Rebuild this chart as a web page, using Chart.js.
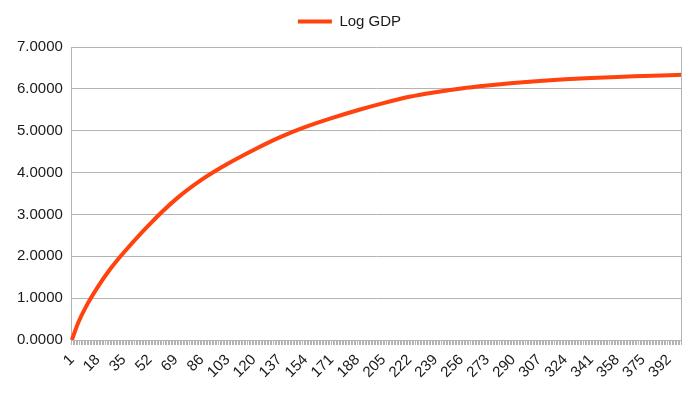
<!DOCTYPE html>
<html>
<head>
<meta charset="utf-8">
<script src="https://cdn.jsdelivr.net/npm/chart.js@4/dist/chart.umd.min.js"></script>
<style>
  html, body { margin: 0; padding: 0; background: #fff; }
  #wrap { width: 700px; height: 393px; position: relative; }
</style>
</head>
<body>
<div id="wrap"><canvas id="chart"></canvas></div>
<script>
// ── Data ──
var periodCount = 400;
var sampleLabels = [1, 5, 10, 18, 26, 35, 52, 69, 86, 103, 120, 137, 154, 171, 188, 205, 222, 239, 256, 273, 290, 307, 324, 341, 358, 375, 392, 400];
var logGdpValues = [0, 0.40, 0.78, 1.27, 1.69, 2.09, 2.77, 3.36, 3.83, 4.21, 4.54, 4.84, 5.09, 5.30, 5.49, 5.66, 5.81, 5.92, 6.01, 6.08, 6.14, 6.19, 6.23, 6.26, 6.285, 6.305, 6.325, 6.335];
var yTicks = [0, 1, 2, 3, 4, 5, 6, 7];
var labelEvery = 17;

var categories = [];
for (var i = 1; i <= periodCount; i++) categories.push(i);

var points = sampleLabels.map(function (c, k) { return { x: c, y: logGdpValues[k] }; });

var LINE = '#ff420e';
var GRID = '#b3b3b3';
var TEXT = '#1a1a1a';
var FONT = "'Liberation Sans', Arial, sans-serif";

// ── Plot-area frame on the right side ──
var frame = {
  id: 'frame',
  afterDraw: function (chart) {
    var a = chart.chartArea, ctx = chart.ctx;
    ctx.save();
    ctx.strokeStyle = GRID;
    ctx.lineWidth = 1;
    ctx.beginPath();
    ctx.moveTo(Math.round(a.right) + 0.5, a.top);
    ctx.lineTo(Math.round(a.right) + 0.5, a.bottom);
    ctx.stroke();
    ctx.restore();
  }
};

// ── Extra gap below the legend ──
var legendGap = {
  id: 'legendGap',
  beforeInit: function (chart) {
    var fit = chart.legend.fit;
    chart.legend.fit = function () {
      fit.bind(chart.legend)();
      this.height += 8;
    };
  }
};

new Chart(document.getElementById('chart').getContext('2d'), {
  type: 'line',
  data: {
    labels: categories,
    datasets: [{
      label: 'Log GDP',
      data: points,
      borderColor: LINE,
      backgroundColor: LINE,
      borderWidth: 4,
      pointRadius: 0,
      cubicInterpolationMode: 'monotone',
      fill: false
    }]
  },
  options: {
    responsive: true,
    maintainAspectRatio: false,
    animation: false,
    layout: { padding: { top: 6, right: 9, left: 8, bottom: 0 } },
    plugins: {
      legend: {
        position: 'top',
        labels: {
          usePointStyle: true,
          pointStyle: 'line',
          pointStyleWidth: 34,
          padding: 8,
          color: TEXT,
          font: { family: FONT, size: 15 }
        }
      },
      tooltip: { enabled: false }
    },
    scales: {
      x: {
        type: 'category',
        offset: false,
        afterFit: function (scale) { scale.height = 53; },
        grid: { drawOnChartArea: false, drawTicks: true, tickLength: 5, color: GRID },
        border: { color: GRID },
        ticks: {
          autoSkip: false,
          maxRotation: 45,
          minRotation: 45,
          padding: 6,
          color: TEXT,
          font: { family: FONT, size: 15 },
          callback: function (v, idx) { return idx % labelEvery === 0 ? String(categories[idx]) : ''; }
        }
      },
      y: {
        min: yTicks[0],
        max: yTicks[yTicks.length - 1],
        grid: { color: GRID, drawTicks: false },
        border: { color: GRID },
        ticks: {
          stepSize: 1,
          padding: 9,
          color: TEXT,
          font: { family: FONT, size: 15 },
          callback: function (v) { return Number(v).toFixed(4); }
        }
      }
    }
  },
  plugins: [frame, legendGap]
});
</script>
</body>
</html>
